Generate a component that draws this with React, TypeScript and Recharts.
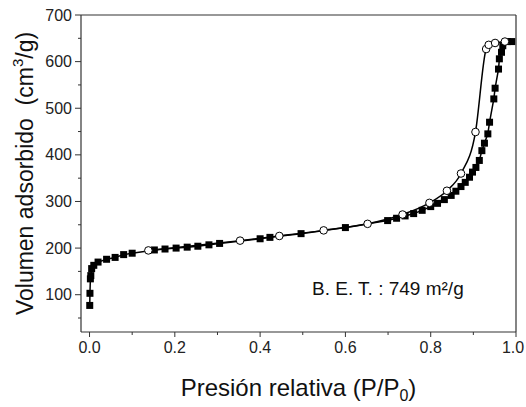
import { LineChart, Line, XAxis, YAxis, ReferenceLine, Label } from 'recharts';

// adsorption branch (filled squares)
const adsorptionP = [
  0.0005, 0.001, 0.002, 0.003, 0.005, 0.01, 0.02, 0.04, 0.06, 0.08, 0.1,
  0.152, 0.177, 0.203, 0.229, 0.254, 0.28, 0.305, 0.4, 0.423, 0.496, 0.6, 0.699,
  0.72, 0.74, 0.76, 0.78, 0.8, 0.816, 0.832, 0.848, 0.859, 0.871, 0.881, 0.891,
  0.898, 0.906, 0.914, 0.92, 0.926, 0.934, 0.938, 0.948, 0.951, 0.959, 0.961,
  0.966, 0.969, 0.98, 0.99,
];
const adsorptionV = [
  77, 103, 134, 141, 156, 163, 170, 176, 180, 186, 189,
  196, 198, 200, 202, 204, 207, 210, 220, 223, 231, 244, 259,
  264, 269, 274, 281, 289, 296, 304, 313, 322, 332, 341, 352,
  363, 373, 388, 409, 425, 445, 470, 520, 543, 584, 606,
  620, 634, 643, 643,
];

// desorption branch (open circles)
const desorptionP = [0.138, 0.353, 0.445, 0.549, 0.652, 0.734, 0.797, 0.838, 0.871, 0.905, 0.93, 0.936, 0.951, 0.974];
const desorptionV = [195, 216, 226, 238, 252, 272, 297, 323, 360, 449, 627, 636, 640, 643];

const xTicks = [0, 0.1, 0.2, 0.3, 0.4, 0.5, 0.6, 0.7, 0.8, 0.9, 1.0];
const yTicks = [50, 100, 150, 200, 250, 300, 350, 400, 450, 500, 550, 600, 650, 700];

const adsorption = adsorptionP.map((p, i) => ({ p, v: adsorptionV[i] }));
const desorption = desorptionP.map((p, i) => ({ p, v: desorptionV[i] }));

const FONT = '"Liberation Sans", Arial, sans-serif';
const AXIS = '#333';

const SquareDot = (props: any) => {
  const { cx, cy, index } = props;
  if (cx == null || cy == null) return <g key={`s-${index}`} />;
  return <rect key={`s-${index}`} x={cx - 3.5} y={cy - 3.5} width={7} height={7} fill="#000" />;
};

const CircleDot = (props: any) => {
  const { cx, cy, index } = props;
  if (cx == null || cy == null) return <g key={`c-${index}`} />;
  return <circle key={`c-${index}`} cx={cx} cy={cy} r={3.8} fill="#fff" stroke="#000" strokeWidth={1} />;
};

const YTick = ({ x, y, payload }: any) => {
  const major = payload.value % 100 === 0;
  const ax = x + 9;
  return (
    <g>
      <line x1={ax - (major ? 6 : 3)} x2={ax} y1={y} y2={y} stroke={AXIS} strokeWidth={1} />
      {major && (
        <text x={ax - 9} y={y} textAnchor="end" dominantBaseline="central" fontSize={16} fontFamily={FONT} fill="#222">
          {payload.value}
        </text>
      )}
    </g>
  );
};

const XTick = ({ x, y, payload }: any) => {
  const major = Math.round(payload.value * 10) % 2 === 0;
  const last = payload.value >= 1;
  const ay = y - 10;
  return (
    <g>
      <line x1={x} x2={x} y1={ay} y2={ay + (major ? 5 : 3)} stroke={AXIS} strokeWidth={1} />
      {major && (
        <text
          x={last ? x - 3 : x}
          y={ay + 10}
          dy="0.71em"
          textAnchor="middle"
          fontSize={16}
          fontFamily={FONT}
          fill="#222"
        >
          {payload.value.toFixed(1)}
        </text>
      )}
    </g>
  );
};

const App = () => {
  return (
    <div style={{ position: 'absolute', left: 0, top: 0, width: 526, height: 407, background: '#fff' }}>
      <LineChart width={526} height={407} margin={{ top: 15, right: 10, left: 0, bottom: 0 }}>
        <XAxis
          type="number"
          dataKey="p"
          domain={[-0.02, 1.0]}
          ticks={xTicks}
          interval={0}
          allowDataOverflow
          height={75}
          tickSize={5}
          tickMargin={5}
          tickLine={false}
          tick={<XTick />}
          axisLine={{ stroke: AXIS, strokeWidth: 1.2 }}
        >
          <Label
            content={({ viewBox }: any) => (
              <text
                x={viewBox.x + viewBox.width / 2}
                y={viewBox.y + 64}
                textAnchor="middle"
                fontSize={24}
                fontFamily={FONT}
                fill="#111"
              >
                Presión relativa (P/P
                <tspan fontSize={16} dy={5}>0</tspan>
                <tspan dy={-5}>)</tspan>
              </text>
            )}
          />
        </XAxis>
        <YAxis
          type="number"
          dataKey="v"
          domain={[20, 700]}
          ticks={yTicks}
          interval={0}
          allowDataOverflow
          width={81}
          tickSize={6}
          tickMargin={3}
          tickLine={false}
          tick={<YTick />}
          axisLine={{ stroke: AXIS, strokeWidth: 1.2 }}
        >
          <Label
            content={({ viewBox }: any) => {
              const cx = viewBox.x + 25;
              const cy = viewBox.y + viewBox.height / 2;
              return (
                <text
                  x={cx}
                  y={cy}
                  transform={`rotate(-90 ${cx} ${cy})`}
                  textAnchor="middle"
                  dominantBaseline="central"
                  fontSize={23}
                  fontFamily={FONT}
                  fill="#111"
                  style={{ whiteSpace: 'pre' }}
                >
                  {'Volumen adsorbido  (cm'}
                  <tspan fontSize={15} dy={-8}>3</tspan>
                  <tspan dy={8}>/g)</tspan>
                </text>
              );
            }}
          />
        </YAxis>
        <ReferenceLine y={700} stroke={AXIS} strokeWidth={1.2} />
        <ReferenceLine x={1.0} stroke={AXIS} strokeWidth={1.2} />
        <Line
          data={adsorption}
          dataKey="v"
          type="linear"
          stroke="#000"
          strokeWidth={1.5}
          dot={SquareDot}
          activeDot={false}
          isAnimationActive={false}
        />
        <Line
          data={desorption}
          dataKey="v"
          type="monotone"
          stroke="#000"
          strokeWidth={1.5}
          dot={CircleDot}
          activeDot={false}
          isAnimationActive={false}
        />
      </LineChart>
      <div
        style={{
          position: 'absolute',
          left: 312,
          top: 279,
          fontSize: 19,
          lineHeight: '19px',
          fontFamily: FONT,
          color: '#111',
          whiteSpace: 'nowrap',
        }}
      >
        B. E. T. : 749 m²/g
      </div>
    </div>
  );
};

export default App;
